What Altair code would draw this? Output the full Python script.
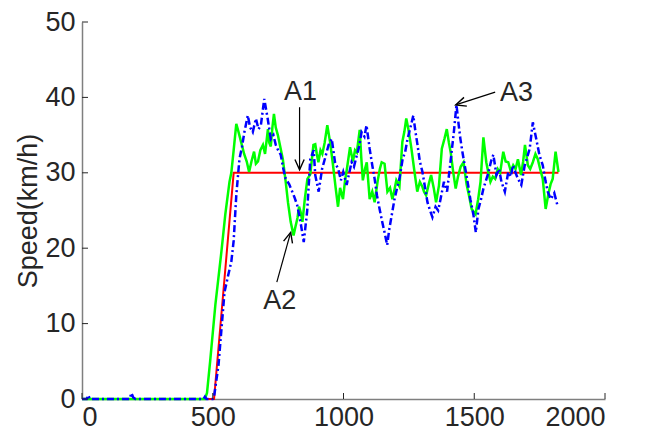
import altair as alt
import pandas as pd

# ---------------- data ----------------
time_ref = [0, 505, 580, 1822]
speed_ref = [0, 0, 30, 30]

time_green = [0, 470, 478, 490, 510, 533, 548, 564, 571, 580, 590, 598, 609, 620, 630, 639, 648, 658, 665,
              673, 682, 692, 700, 711, 716, 722, 728, 734, 741, 749, 758, 768, 779, 788, 798, 809, 816, 824,
              830, 836, 843, 852, 862, 873, 885, 892, 898, 904, 912, 919, 928, 938, 949, 960, 970, 979, 987,
              998, 1006, 1013, 1025, 1036, 1044, 1051, 1062, 1068, 1074, 1082, 1089, 1100, 1110, 1119, 1131,
              1139, 1146, 1157, 1168, 1178, 1187, 1195, 1202, 1214, 1225, 1233, 1240, 1248, 1259, 1270, 1282,
              1292, 1301, 1308, 1316, 1326, 1335, 1345, 1354, 1365, 1376, 1386, 1395, 1403, 1410, 1420, 1429,
              1438, 1448, 1459, 1471, 1480, 1490, 1505, 1515, 1524, 1535, 1546, 1554, 1562, 1571, 1580, 1590,
              1599, 1611, 1620, 1630, 1640, 1649, 1658, 1667, 1679, 1687, 1694, 1705, 1714, 1724, 1734, 1743,
              1752, 1762, 1773, 1784, 1792, 1800, 1811, 1822]
speed_green = [0, 0, 0.8, 5, 12.5, 19.5, 24.5, 28.8, 30, 33, 36.5, 35.5, 34, 32.5, 31.5, 30.1, 31.5, 32.8, 31.2,
               31.5, 33, 33.7, 32.5, 35.8, 34, 33.5, 36, 37.8, 36, 35, 33.5, 31.8, 28.8, 26, 23.5, 21.7, 22.8, 24,
               25.5, 24.8, 23.5, 26.5, 29.2, 29.8, 33.7, 33.8, 32.5, 31.4, 33, 32.5, 34, 36.3, 34, 31, 28, 25.5,
               28, 26.5, 29, 30.5, 33.4, 31.5, 33, 32.7, 35.7, 32, 29, 30.5, 31.4, 26.5, 27.5, 26.1, 29,
               30.5, 31.4, 31.2, 27.5, 28, 26.5, 27.8, 29, 28.2, 34.1, 35.5, 37.2, 35.8, 33.4, 30.5, 27.5,
               28.8, 28.2, 27.5, 27, 28.5, 29.7, 28, 26.1, 28.3, 33.2, 34.5, 35.8, 34, 32.7, 30, 27.9,
               29.5, 30.8, 31.4, 28.4, 27, 25.2, 24.5, 26.5, 28.8, 34.7, 31.4, 30, 28.8, 29.5, 29.2, 30.5,
               30, 32.8, 31.5, 31.4, 30.2, 31, 30.5, 31.8, 29.7, 31.5, 33.7, 31, 30.5, 31.4, 32.5, 31.8,
               30.5, 29.2, 25.2, 27.3, 28.5, 29.2, 32.8, 30.1]

time_blue = [0, 18, 24, 30, 182, 189, 196, 204, 465, 470, 476, 500, 505, 522, 545, 559, 571, 580, 590, 602,
             612, 621, 634, 643, 653, 665, 675, 684, 697, 710, 722, 732, 741, 750, 760, 770, 779, 792, 804, 812,
             823, 836, 848, 861, 873, 886, 892, 905, 918, 930, 943, 955, 968, 980, 990, 999, 1012, 1022, 1031,
             1040, 1050, 1060, 1069, 1080, 1088, 1100, 1110, 1119, 1128, 1138, 1148, 1157, 1167, 1175, 1182,
             1195, 1205, 1214, 1226, 1236, 1245, 1258, 1267, 1275, 1283, 1292, 1302, 1312, 1321, 1331, 1340,
             1352, 1362, 1371, 1384, 1396, 1409, 1422, 1432, 1440, 1447, 1456, 1466, 1476, 1485, 1497, 1506,
             1516, 1526, 1535, 1545, 1554, 1564, 1573, 1585, 1595, 1604, 1617, 1630, 1640, 1648, 1658, 1667,
             1680, 1693, 1702, 1712, 1724, 1737, 1749, 1762, 1772, 1781, 1793, 1806, 1818]
speed_blue = [0, 0, 0.5, 0, 0, 0.8, 0.2, 0, 0, 0.3, 0, 0, 0.3, 4.5, 14.2, 16.4, 18.2, 21, 27, 31.8,
              33.5, 35.4, 37.6, 36, 35.4, 37.2, 35.8, 36.3, 39.8, 37.2, 34.5, 35, 33.7, 33, 32.4, 30.5, 29.2,
              28.5, 27.5, 26.8, 25.7, 23.4, 20.8, 24.9, 31.8, 33, 29.7, 27.5, 30.5, 32, 33.7, 34.5, 31.3,
              30.5, 29, 30.1, 28.4, 30, 31.4, 30.8, 32.2, 33.5, 35.4, 34.8, 36.3, 33.2, 31, 29.2, 27,
              25.2, 23.5, 22.1, 20.4, 22.5, 23.9, 26.5, 28, 29.2, 31.8, 32.8, 34.5, 36.3, 37.6, 35.5, 33.7,
              31.5, 30.1, 28, 26.1, 25, 24.1, 25.5, 25, 26.5, 28.8, 27.5, 31.4, 35.4, 39, 36.5, 34.5, 32.5,
              30.5, 28.5, 26.5, 24.4, 22.1, 25.2, 26.5, 27.9, 29, 30, 31.5, 32.4, 29.7, 30.5, 28.8, 27.5,
              30.1, 29.5, 31, 30, 29.2, 28.4, 31, 32, 33.2, 36.7, 34.5, 32.4, 31, 29, 27.5, 26.5, 27.3, 25.7]

x_ticks = [0, 500, 1000, 1500, 2000]
y_ticks = [0, 10, 20, 30, 40, 50]

ann_text = ["A1", "A2", "A3"]
ann_text_x = [836, 756, 1662]
ann_text_y = [40.7, 13.0, 40.6]
ann_tail_x = [832, 745, 1580]
ann_tail_y = [38.7, 15.5, 40.7]
ann_head_x = [832, 798, 1429]
ann_head_y = [30.4, 22.1, 39.0]
ann_head_angle = [90, 285, 162]

# ---------------- chart ----------------
W, H = 523, 377
FONT = "Liberation Sans"
TXT = "#262626"

xscale = alt.Scale(domain=[0, 2000], nice=False, zero=False)
yscale = alt.Scale(domain=[0, 50], nice=False)

ref_df = pd.DataFrame({"t": time_ref, "v": speed_ref})
green_df = pd.DataFrame({"t": time_green, "v": speed_green})
blue_df = pd.DataFrame({"t": time_blue, "v": speed_blue})
xt_df = pd.DataFrame({"t": x_ticks})
yt_df = pd.DataFrame({"v": y_ticks})
ann_df = pd.DataFrame({
    "label": ann_text, "lx": ann_text_x, "ly": ann_text_y,
    "tx": ann_tail_x, "ty": ann_tail_y, "hx": ann_head_x, "hy": ann_head_y,
    "ang": ann_head_angle,
})

x_enc = alt.X("t:Q", scale=xscale,
              axis=alt.Axis(values=x_ticks, format="d", title=None, ticks=False, grid=False,
                            labelPadding=5, domainColor="#7f7f7f", domainWidth=1.5))
y_enc = alt.Y("v:Q", scale=yscale,
              axis=alt.Axis(values=y_ticks, format="d", title="Speed(km/h)", ticks=False, grid=False,
                            labelPadding=7, titlePadding=2, domainColor="#7f7f7f", domainWidth=1.5))

red = alt.Chart(ref_df).mark_line(color="#ff0000", strokeWidth=2).encode(x=x_enc, y=y_enc)
green = alt.Chart(green_df).mark_line(color="#00ff00", strokeWidth=2.5).encode(
    x=alt.X("t:Q", scale=xscale), y=alt.Y("v:Q", scale=yscale))
blue = alt.Chart(blue_df).mark_line(color="#0000ff", strokeWidth=2.5, strokeDash=[7, 3, 2, 3]).encode(
    x=alt.X("t:Q", scale=xscale), y=alt.Y("v:Q", scale=yscale))

xticks = alt.Chart(xt_df).mark_rule(color=TXT, strokeWidth=1).encode(
    x=alt.X("t:Q", scale=xscale), y=alt.value(H), y2=alt.value(H - 6))
yticks = alt.Chart(yt_df).mark_rule(color=TXT, strokeWidth=1).encode(
    y=alt.Y("v:Q", scale=yscale), x=alt.value(0), x2=alt.value(6))

shafts = alt.Chart(ann_df).mark_rule(color="black", strokeWidth=1.2).encode(
    x=alt.X("tx:Q", scale=xscale), y=alt.Y("ty:Q", scale=yscale),
    x2="hx:Q", y2="hy:Q")
heads = alt.Chart(ann_df).mark_point(
    shape="M-1,-0.45L0,0L-1,0.45", filled=False, size=420, strokeWidth=1.4,
    color="black", opacity=1).encode(
    x=alt.X("hx:Q", scale=xscale), y=alt.Y("hy:Q", scale=yscale),
    angle=alt.Angle("ang:Q", scale=None))
labels = alt.Chart(ann_df).mark_text(font=FONT, fontSize=27, color=TXT).encode(
    x=alt.X("lx:Q", scale=xscale), y=alt.Y("ly:Q", scale=yscale), text="label:N")

chart = alt.layer(red, green, blue, xticks, yticks, shafts, heads, labels).properties(
    width=W, height=H,
    padding={"left": 6, "top": 0, "right": 0, "bottom": 0},
).configure_view(stroke=None).configure_axis(
    labelFont=FONT, labelFontSize=27, labelColor=TXT,
    titleFont=FONT, titleFontSize=27, titleColor=TXT, titleFontWeight="normal",
)

chart.save("out.html", embed_options={"renderer": "svg", "actions": False})
